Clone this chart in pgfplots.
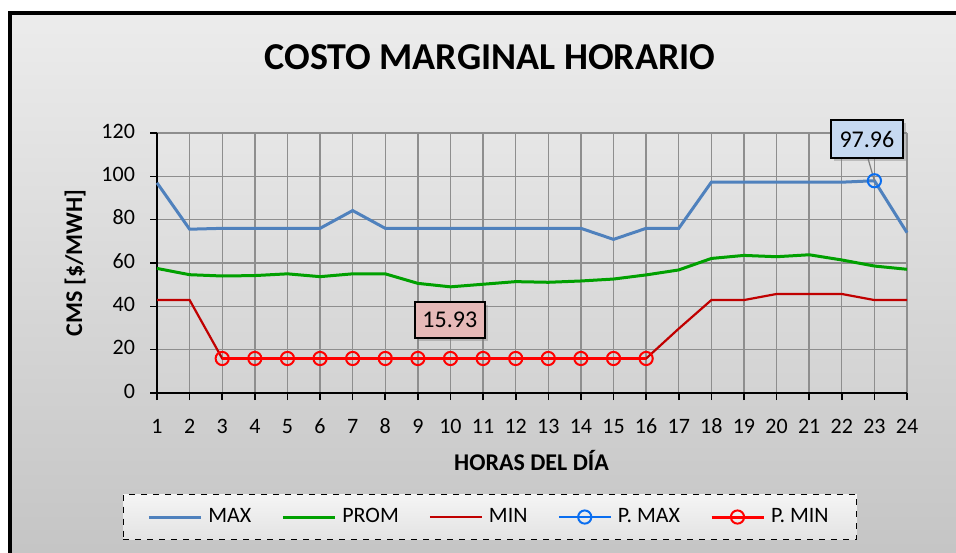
\documentclass[border=0pt]{standalone}
\usepackage{fontspec}
\setmainfont{Carlito}
\usepackage{pgfplots}
\pgfplotsset{compat=1.18}
\usetikzlibrary{shadows}
\definecolor{cmax}{HTML}{4F81BD}
\definecolor{cprom}{HTML}{00A000}
\definecolor{cmin}{HTML}{C00000}
\definecolor{cpmax}{HTML}{0A6EF0}
\definecolor{cpmin}{HTML}{FF0000}
\definecolor{lblue}{HTML}{C6D9F1}
\definecolor{lpink}{HTML}{E6B9B8}
\definecolor{bgtop}{HTML}{ECECEC}
\definecolor{bgbot}{HTML}{C2C2C2}
\definecolor{patop}{HTML}{E6E6E6}
\definecolor{pabot}{HTML}{D3D3D3}
\definecolor{gridc}{HTML}{8E8E8E}
\begin{document}
\begin{tikzpicture}
\path[use as bounding box] (0pt,0pt) rectangle (478pt,276pt);
\fill[white] (0pt,0pt) rectangle (478pt,276pt);
\draw[line width=2pt, top color=bgtop, bottom color=bgbot] (5pt,-20pt) rectangle (500pt,269.5pt);
\node[font=\fontsize{19}{22}\selectfont\bfseries] at (245pt,247.5pt) {COSTO MARGINAL HORARIO};
\begin{axis}[
  at={(78.5pt,79.5pt)}, anchor=south west,
  scale only axis, width=375pt, height=130pt,
  xmin=1, xmax=24, ymin=0, ymax=120,
  clip=false,
  xtick={1,...,24}, ytick={0,20,...,120},
  /pgf/number format/assume math mode=true,
  typeset ticklabels with strut,
  ticklabel style={font=\fontsize{11}{13}\selectfont},
  yticklabel style={xshift=-4pt},
  xticklabel style={yshift=-4pt},
  grid=major,
  major grid style={color=gridc, line width=0.7pt},
  axis lines*=left,
  axis line style={black, line width=1pt},
  tick align=outside, major tick length=3.5pt,
  tick style={black, line width=0.8pt},
  axis background/.style={top color=patop, bottom color=pabot},
  xlabel={HORAS DEL DÍA},
  ylabel={CMS [\$/MWH]},
  label style={font=\fontsize{12}{14}\selectfont\bfseries},
  xlabel style={at={(axis description cs:0.4993,-0.258)}, anchor=center},
  ylabel style={at={(axis description cs:-0.109,0.5)}, anchor=center},
  legend columns=5,
  legend cell align=left,
  legend image code/.code={\draw[mark repeat=2,mark phase=2,solid,#1] plot coordinates {(0pt,0pt) (13pt,0pt) (26pt,0pt)};},
  legend style={at={(axis description cs:0.444,-0.477)}, anchor=center,
    draw=black, dashed, line width=0.8pt, top color=gray!8, bottom color=gray!22,
    font=\fontsize{11}{13}\selectfont, inner xsep=12pt, inner ysep=5pt,
    /tikz/every odd column/.append style={column sep=1pt},
    /tikz/every even column/.append style={column sep=13pt}},
]
\addplot[cmax, line width=1.5pt] coordinates {
(1,97.0) (2,75.6) (3,76) (4,76) (5,76) (6,76) (7,84.2) (8,76) (9,76) (10,76) (11,76) (12,76)
(13,76) (14,76) (15,70.9) (16,76) (17,76) (18,97.3) (19,97.3) (20,97.3) (21,97.3) (22,97.3) (23,97.96) (24,74)};
\addlegendentry{MAX}
\addplot[cprom, line width=1.5pt] coordinates {
(1,57.5) (2,54.6) (3,54) (4,54.2) (5,55) (6,53.7) (7,55) (8,55) (9,50.6) (10,49) (11,50.2) (12,51.4)
(13,51.1) (14,51.7) (15,52.6) (16,54.5) (17,56.8) (18,62.1) (19,63.5) (20,62.9) (21,63.8) (22,61.4) (23,58.6) (24,57.1)};
\addlegendentry{PROM}
\addplot[cmin, line width=1.1pt] coordinates {
(1,42.9) (2,42.9) (3,15.93) (4,15.93) (5,15.93) (6,15.93) (7,15.93) (8,15.93) (9,15.93) (10,15.93) (11,15.93) (12,15.93)
(13,15.93) (14,15.93) (15,15.93) (16,15.93) (17,29.7) (18,42.9) (19,42.9) (20,45.7) (21,45.7) (22,45.7) (23,42.9) (24,42.9)};
\addlegendentry{MIN}
\addplot[cpmax, line width=1.2pt, mark=o, mark size=3.3pt, mark options={line width=1pt}] coordinates {(23,97.96)};
\addlegendentry{P. MAX}
\addplot[cpmin, line width=1.5pt, mark=o, mark size=3.3pt, mark options={line width=1pt}] coordinates {
(3,15.93) (4,15.93) (5,15.93) (6,15.93) (7,15.93) (8,15.93) (9,15.93) (10,15.93) (11,15.93) (12,15.93)
(13,15.93) (14,15.93) (15,15.93) (16,15.93)};
\addlegendentry{P. MIN}
\draw[gray, line width=0.6pt] (axis cs:22.8,108.5) -- (axis cs:23,97.96);
\node[fill=lblue, draw=black, line width=1pt, drop shadow={shadow xshift=1.5pt, shadow yshift=-1.5pt, opacity=0.4},
  minimum width=36pt, minimum height=19pt, inner sep=1pt, font=\fontsize{12}{14}\selectfont]
  at (axis cs:22.77,117.2) {97.96};
\node[fill=lpink, draw=black, line width=1pt, drop shadow={shadow xshift=1.5pt, shadow yshift=-1.5pt, opacity=0.4},
  minimum width=35pt, minimum height=18pt, inner sep=1pt, font=\fontsize{12}{14}\selectfont]
  at (axis cs:9.98,33.7) {15.93};
\end{axis}
\end{tikzpicture}
\end{document}
